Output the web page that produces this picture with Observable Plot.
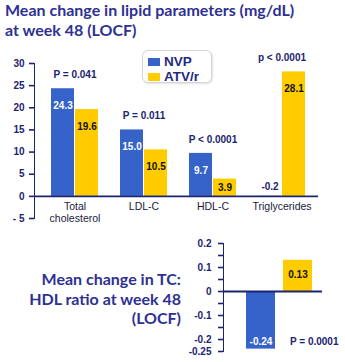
<!DOCTYPE html>
<html><head><meta charset="utf-8">
<script src="https://cdn.jsdelivr.net/npm/d3@7"></script>
<script src="https://cdn.jsdelivr.net/npm/@observablehq/plot@0.6"></script>
<style>
body{margin:0;background:#fff;}
#wrap{position:relative;width:345px;height:362px;overflow:hidden;background:#fff;font-family:"Liberation Sans",Arial,sans-serif;}
.title{position:absolute;left:5px;top:0px;font-family:Lato,sans-serif;font-weight:700;font-size:16px;line-height:19.5px;color:#2e3192;white-space:nowrap;}
.tctitle{position:absolute;left:0;width:181px;top:269px;text-align:right;font-family:Lato,sans-serif;font-weight:700;font-size:16px;line-height:19.5px;color:#2e3192;}
.legend{position:absolute;left:142px;top:50px;width:68px;height:31px;border:1px solid #d4d4de;border-radius:6px;box-shadow:1px 1px 2px rgba(0,0,0,0.12);background:#fff;z-index:2;}
.lg-row{position:absolute;left:5px;display:flex;align-items:center;font-weight:700;font-size:13.5px;line-height:14px;color:#1f2a80;}
.sw{width:12px;height:8px;margin-right:4px;}
.plotbox{position:absolute;left:0;}
.plotbox svg g[aria-label*="axis"] path, .plotbox svg g[aria-label*="axis"] line{stroke-width:1.6px;}
</style></head>
<body>
<div id="wrap">
  <div class="title">Mean change in lipid parameters (mg/dL)<br>at week 48 (LOCF)</div>
  <div class="plotbox" id="top" style="top:50px"></div>
  <div class="plotbox" id="bottom" style="top:228px"></div>
  <div class="tctitle">Mean change in TC:<br>HDL ratio at week 48<br>(LOCF)</div>
  <div class="legend" id="legend"></div>
</div>
<script>
const categories = ["Total\ncholesterol", "LDL-C", "HDL-C", "Triglycerides"];
const series = ["NVP", "ATV/r"];
const nvpValues = [24.3, 15.0, 9.7, -0.2];
const atvValues = [19.6, 10.5, 3.9, 28.1];
const pValues = ["P = 0.041", "P = 0.011", "P < 0.0001", "p < 0.0001"];
const yTicks = [30, 25, 20, 15, 10, 5, 0, -5];
const yTickLabels = ["30", "25", "20", "15", "10", "5", "0", "- 5"];
const seriesColors = ["#3563c9", "#ffcc00"];

const tcValues = [-0.24, 0.13];
const tcP = "P = 0.0001";
const tcTicks = [0.2, 0.15, 0.1, 0.05, 0, -0.05, -0.1, -0.15, -0.2, -0.25];
const tcLabelTicks = [0.2, 0.1, 0, -0.1, -0.2, -0.25];
const tcTickLabels = ["0.2", "0.1", "0", "-0.1", "-0.2", "-0.25"];

const navy = "#1c2370";
const dark = "#111";

const lipid = categories.flatMap((c, i) => [
  {category: c, series: series[0], value: nvpValues[i]},
  {category: c, series: series[1], value: atvValues[i]}
]);
const pRows = categories.map((c, i) => ({category: c, top: Math.max(nvpValues[i], atvValues[i], 0), label: pValues[i]}));

function valueLabels(name, dx, fill) {
  const rows = lipid.filter(d => d.series === name);
  return [
    Plot.text(rows.filter(d => d.value >= 7), {x: "category", y: "value", text: d => d.value.toFixed(1), dx, dy: 17, fill}),
    Plot.text(rows.filter(d => d.value >= 0 && d.value < 7), {x: "category", y: d => d.value / 2, text: d => d.value.toFixed(1), dx, fill}),
    Plot.text(rows.filter(d => d.value < 0), {x: "category", y: () => 0, text: d => d.value.toFixed(1), dx, dy: -10, fill: navy})
  ];
}

const topPlot = Plot.plot({
  width: 345, height: 174,
  marginTop: 13, marginBottom: 6, marginLeft: 34, marginRight: 27,
  style: {fontFamily: "'Liberation Sans', Arial, sans-serif", fontSize: "10px", fontWeight: "bold", color: navy, background: "transparent"},
  x: {domain: categories, paddingInner: 0.314, paddingOuter: 0.186, align: 0.577, axis: null},
  y: {domain: [-5, 30], ticks: yTicks, tickFormat: d => yTickLabels[yTicks.indexOf(d)], tickSize: 5, tickPadding: 5, line: true, label: null},
  color: {domain: series, range: seriesColors},
  marks: [
    Plot.barY(lipid.filter(d => d.series === series[0]), {x: "category", y: "value", fill: "series", insetRight: 24}),
    Plot.barY(lipid.filter(d => d.series === series[1]), {x: "category", y: "value", fill: "series", insetLeft: 24}),
    Plot.ruleY([0], {stroke: navy, strokeWidth: 1.8}),
    ...valueLabels(series[0], -12, "white"),
    ...valueLabels(series[1], 12, dark),
    Plot.text(pRows, {x: "category", y: "top", text: "label", dy: -14, fill: navy}),
    Plot.text(categories, {x: d => d, y: () => 0, text: d => d, dy: 5, lineAnchor: "top", lineHeight: 1.15, fontWeight: "normal", fontSize: 10.5, fill: "#1a1a40"})
  ]
});
document.getElementById("top").appendChild(topPlot);

const tc = series.map((s, i) => ({series: s, value: tcValues[i]}));
const bottomPlot = Plot.plot({
  width: 345, height: 129,
  marginTop: 15, marginBottom: 6, marginLeft: 223, marginRight: 23,
  style: {fontFamily: "'Liberation Sans', Arial, sans-serif", fontSize: "10px", fontWeight: "bold", color: navy, background: "transparent"},
  x: {domain: series, paddingInner: 0.213, paddingOuter: 0.426, align: 0.69, axis: null},
  y: {domain: [-0.25, 0.2], ticks: tcTicks, tickFormat: d => { const k = tcLabelTicks.findIndex(v => Math.abs(v - d) < 1e-9); return k >= 0 ? tcTickLabels[k] : ""; }, tickSize: 5, tickPadding: 7, line: true, label: null},
  color: {domain: series, range: seriesColors},
  marks: [
    Plot.barY(tc, {x: "series", y: "value", fill: "series"}),
    Plot.ruleY([0], {stroke: navy, strokeWidth: 1.8}),
    Plot.text(tc.filter(d => d.series === series[0]), {x: "series", y: "value", text: d => d.value.toFixed(2), dy: -7, fill: "white"}),
    Plot.text(tc.filter(d => d.series === series[1]), {x: "series", y: "value", text: d => d.value.toFixed(2), dy: 14, fill: dark}),
    Plot.text([tcP], {x: () => series[1], y: () => tcValues[0], text: d => d, dx: -8, dy: -7, textAnchor: "start", fill: navy})
  ]
});
document.getElementById("bottom").appendChild(bottomPlot);

const legend = document.getElementById("legend");
series.forEach((s, i) => {
  const row = document.createElement("div");
  row.className = "lg-row";
  row.style.top = (4 + i * 15) + "px";
  const sw = document.createElement("span");
  sw.className = "sw";
  sw.style.background = seriesColors[i];
  const t = document.createElement("span");
  t.textContent = s;
  row.appendChild(sw); row.appendChild(t);
  legend.appendChild(row);
});
</script>
</body></html>
